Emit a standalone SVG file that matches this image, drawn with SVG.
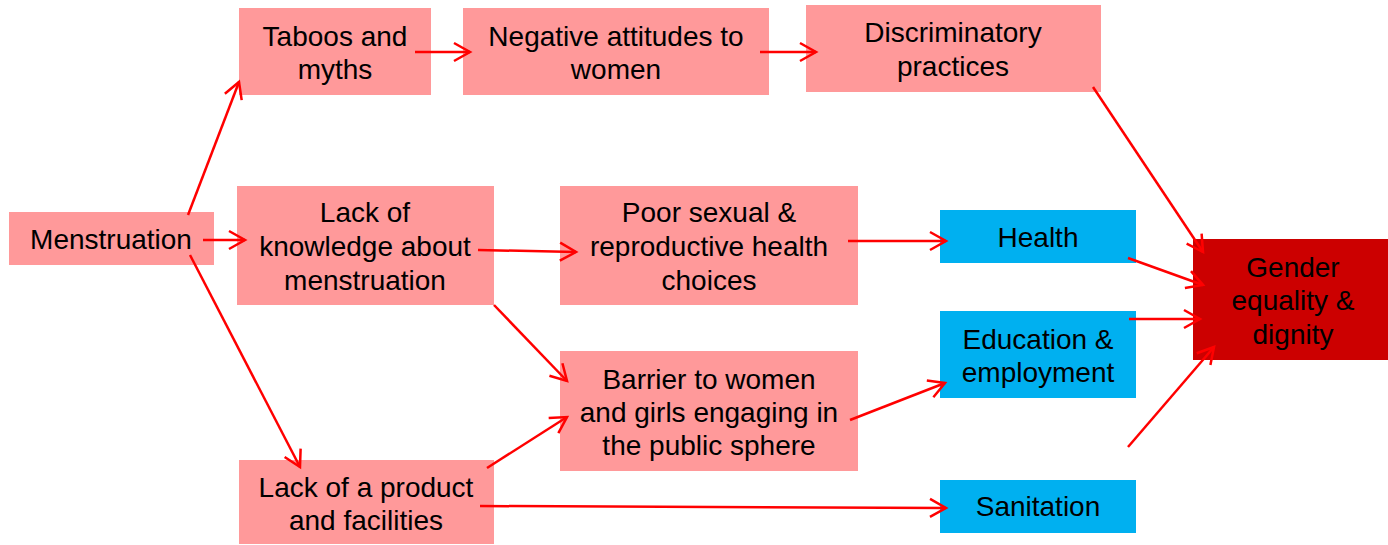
<svg xmlns="http://www.w3.org/2000/svg" width="1388" height="545" viewBox="0 0 1388 545">
<style>
.p{fill:#FF999A}.b{fill:#00B0F0}.r{fill:#CC0000}
text{font-family:"Liberation Sans",Arial,sans-serif;font-size:28px;fill:#000;text-anchor:middle}
.c line{stroke:#FF0000;stroke-width:2.5;marker-end:url(#a)}
</style>
<defs>
<marker id="a" markerUnits="userSpaceOnUse" markerWidth="24" markerHeight="24" viewBox="-20 -12 24 24" refX="0" refY="0" orient="auto">
<path d="M-16,-9 L0,0 L-16,9" fill="none" stroke="#FF0000" stroke-width="2.5"/>
</marker>
</defs>
<rect width="1388" height="545" fill="#fff"/>
<g id="taboos"><rect class="p" x="239" y="8" width="192" height="87"/><text x="335" y="46">Taboos and</text><text x="335" y="79">myths</text></g>
<g id="negative"><rect class="p" x="463" y="8" width="306" height="87"/><text x="616" y="46">Negative attitudes to</text><text x="616" y="79">women</text></g>
<g id="discriminatory"><rect class="p" x="806" y="5" width="295" height="87"/><text x="953" y="42">Discriminatory</text><text x="953" y="76">practices</text></g>
<g id="menstruation"><rect class="p" x="9" y="212" width="205" height="53"/><text x="111" y="249">Menstruation</text></g>
<g id="knowledge"><rect class="p" x="237" y="186" width="257" height="119"/><text x="365" y="222">Lack of</text><text x="365" y="256">knowledge about</text><text x="365" y="290">menstruation</text></g>
<g id="poor"><rect class="p" x="560" y="186" width="298" height="119"/><text x="709" y="222">Poor sexual &amp;</text><text x="709" y="256">reproductive health</text><text x="709" y="290">choices</text></g>
<g id="health"><rect class="b" x="940" y="210" width="196" height="53"/><text x="1038" y="247">Health</text></g>
<g id="gender"><rect class="r" x="1193" y="239" width="195" height="121"/><text x="1293" y="277">Gender</text><text x="1293" y="310">equality &amp;</text><text x="1293" y="344">dignity</text></g>
<g id="education"><rect class="b" x="940" y="311" width="196" height="87"/><text x="1038" y="349">Education &amp;</text><text x="1038" y="382">employment</text></g>
<g id="barrier"><rect class="p" x="560" y="351" width="298" height="120"/><text x="709" y="389">Barrier to women</text><text x="709" y="422">and girls engaging in</text><text x="709" y="455">the public sphere</text></g>
<g id="product"><rect class="p" x="239" y="460" width="255" height="84"/><text x="366" y="497">Lack of a product</text><text x="366" y="530">and facilities</text></g>
<g id="sanitation"><rect class="b" x="940" y="480" width="196" height="53"/><text x="1038" y="516">Sanitation</text></g>
<g class="c" id="connectors">
<line x1="188" y1="215" x2="239" y2="82"/>
<line x1="203" y1="240" x2="245" y2="240"/>
<line x1="190" y1="255" x2="300" y2="467"/>
<line x1="415" y1="52" x2="470" y2="52"/>
<line x1="760" y1="52" x2="816" y2="52"/>
<line x1="1093" y1="87" x2="1203" y2="252"/>
<line x1="478" y1="250" x2="576" y2="252"/>
<line x1="494" y1="305" x2="567" y2="381"/>
<line x1="848" y1="241" x2="946" y2="241"/>
<line x1="1128" y1="258" x2="1203" y2="285"/>
<line x1="1129" y1="319" x2="1200" y2="319"/>
<line x1="1128" y1="447" x2="1214" y2="347"/>
<line x1="850" y1="420" x2="945" y2="383"/>
<line x1="487" y1="468" x2="567" y2="417"/>
<line x1="480" y1="506" x2="946" y2="508"/>
</g>
</svg>
